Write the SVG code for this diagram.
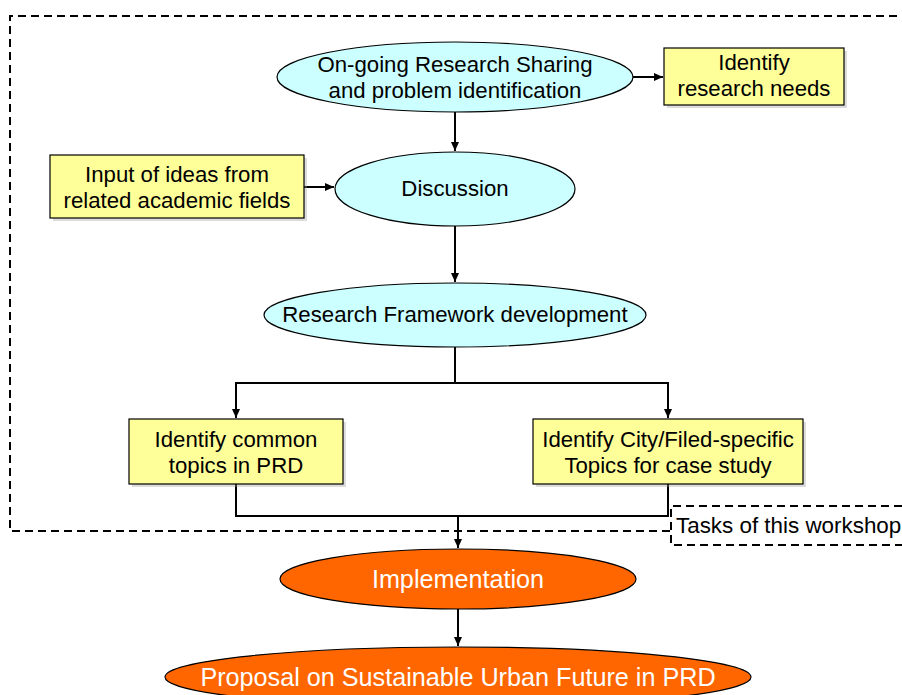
<svg xmlns="http://www.w3.org/2000/svg" width="902" height="695" viewBox="0 0 902 695">
<defs>
<style>
.ell{fill:#CCFFFF;stroke:#000;stroke-width:1.2}
.org{fill:#FF6600;stroke:#000;stroke-width:1.2}
.box{fill:#FFFF99;stroke:#000;stroke-width:1.2}
.shadow{fill:#9a9a9a;opacity:0.35}
.t{font-family:"Liberation Sans",Arial,sans-serif;font-size:22.2px;fill:#000;text-anchor:middle}
.w{font-family:"Liberation Sans",Arial,sans-serif;font-size:25.2px;fill:#fff;text-anchor:middle}
.dash{fill:none;stroke:#000;stroke-width:2;stroke-dasharray:8,5}
.c{fill:none;stroke:#000;stroke-width:2}
</style>
<marker id="ah" markerWidth="10" markerHeight="10" refX="9" refY="5" orient="auto" markerUnits="userSpaceOnUse">
<path d="M0,1 L9,5 L0,9 Z" fill="#000"/>
</marker>
</defs>
<rect width="902" height="695" fill="#fff"/>
<g id="workshop-boundary">
<path class="dash" d="M670,531 L10,531 L10,16 L902,16"/>
<path class="dash" d="M902,506 L671,506 L671,545 L902,545"/>
<text x="676" y="533" font-family="'Liberation Sans',Arial,sans-serif" font-size="22.4px" fill="#000">Tasks of this workshop</text>
</g>
<g id="connectors">
<line class="c" x1="633" y1="77" x2="663" y2="77" marker-end="url(#ah)"/>
<line class="c" x1="455" y1="112" x2="455" y2="151" marker-end="url(#ah)"/>
<line class="c" x1="304" y1="187" x2="334" y2="187" marker-end="url(#ah)"/>
<line class="c" x1="455" y1="226" x2="455" y2="282" marker-end="url(#ah)"/>
<path class="c" d="M455,347 L455,383 M236,383 L668,383"/>
<line class="c" x1="236" y1="382" x2="236" y2="418" marker-end="url(#ah)"/>
<line class="c" x1="668" y1="382" x2="668" y2="418" marker-end="url(#ah)"/>
<path class="c" d="M236,484 L236,516 L668,516 L668,484"/>
<line class="c" x1="458" y1="516" x2="458" y2="548" marker-end="url(#ah)"/>
<line class="c" x1="458" y1="609" x2="458" y2="646" marker-end="url(#ah)"/>
</g>
<g id="node-sharing">
<ellipse class="ell" cx="455" cy="77" rx="178" ry="35"/>
<text class="t" x="455" y="72">On-going Research Sharing</text>
<text class="t" x="455" y="98">and problem identification</text>
</g>
<g id="node-needs">
<rect class="shadow" x="667" y="51" width="180" height="57"/>
<rect class="box" x="664" y="48" width="180" height="57"/>
<text class="t" x="754" y="70">Identify</text>
<text class="t" x="754" y="96">research needs</text>
</g>
<g id="node-input">
<rect class="shadow" x="53" y="158" width="254" height="63"/>
<rect class="box" x="50" y="155" width="254" height="63"/>
<text class="t" x="177" y="182">Input of ideas from</text>
<text class="t" x="177" y="208">related academic fields</text>
</g>
<g id="node-discussion">
<ellipse class="ell" cx="455" cy="189" rx="120" ry="37"/>
<text class="t" x="455" y="196">Discussion</text>
</g>
<g id="node-framework">
<ellipse class="ell" cx="455" cy="315" rx="191" ry="32"/>
<text class="t" x="455" y="322">Research Framework development</text>
</g>
<g id="node-common">
<rect class="shadow" x="132" y="422" width="214" height="65"/>
<rect class="box" x="129" y="419" width="214" height="65"/>
<text class="t" x="236" y="447">Identify common</text>
<text class="t" x="236" y="473">topics in PRD</text>
</g>
<g id="node-specific">
<rect class="shadow" x="536" y="422" width="270" height="65"/>
<rect class="box" x="533" y="419" width="270" height="65"/>
<text class="t" x="668" y="447">Identify City/Filed-specific</text>
<text class="t" x="668" y="473">Topics for case study</text>
</g>
<g id="node-implementation">
<ellipse class="org" cx="458" cy="579" rx="178" ry="30"/>
<text class="w" x="458" y="588">Implementation</text>
</g>
<g id="node-proposal">
<ellipse class="org" cx="458" cy="677" rx="293" ry="30"/>
<text class="w" x="458" y="686">Proposal on Sustainable Urban Future in PRD</text>
</g>
</svg>
